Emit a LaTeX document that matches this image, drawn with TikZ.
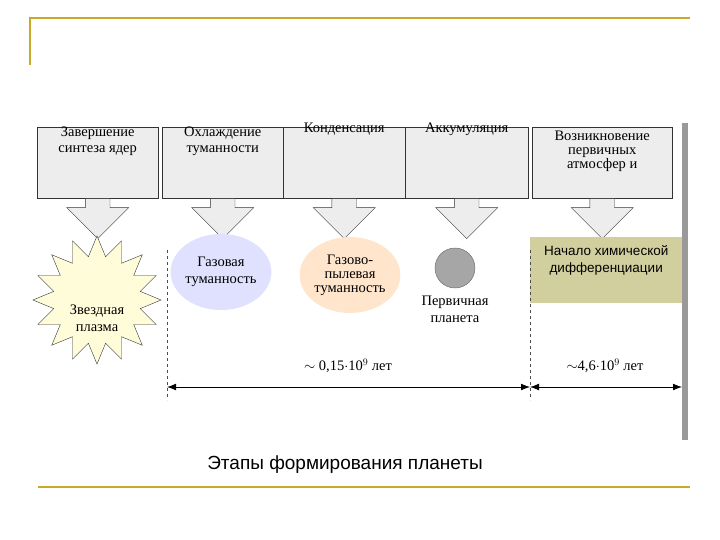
\documentclass[tikz,border=0pt]{standalone}
\usepackage{fontspec}
\setmainfont{Liberation Serif}
\newfontfamily\sansf{Liberation Sans}
\usetikzlibrary{positioning, shapes.geometric, shapes.arrows, arrows.meta}

\begin{document}
\begin{tikzpicture}[x=1pt, y=-1pt, every node/.style={font=\fontsize{14.5}{17}\selectfont, align=center},
    stagebox/.style={draw=black!80, fill=black!7, minimum height=71pt, anchor=north west},
    stagetext/.style={anchor=north, font=\fontsize{14.5}{16}\selectfont},
    blockarrow/.style={single arrow, draw=black!80, fill=black!7, shape border rotate=270,
      minimum width=62pt, single arrow head extend=14pt, single arrow tip angle=90, minimum height=40pt, inner sep=9pt},
    span/.style={{Latex[length=9pt]}-{Latex[length=9pt]}, thick},
    divider/.style={dashed, black!70}]

    \useasboundingbox (0,0) rectangle (720,540);
    % Slide frame
    \draw[draw={rgb,255:red,200;green,170;blue,40}, line width=1.2pt] (30,65) -- (30,18) -- (690,18);
    \draw[draw={rgb,255:red,200;green,170;blue,40}, line width=1.2pt] (38,487) -- (690,487);
    \fill[black!40] (682,123) rectangle (688,440);

    % Stages
    \node[stagebox, minimum width=121pt] (s1) at (37,127) {};
    \node[stagebox, minimum width=121pt] (s2) at (162,127) {};
    \node[stagebox, minimum width=122pt] (s3) at (283,127) {};
    \node[stagebox, minimum width=123pt] (s4) at (405,127) {};
    \node[stagebox, minimum width=140pt] (s5) at (532,127) {};
    \node[stagetext] at ([yshift=4pt]s1.north) {Завершение\\синтеза ядер};
    \node[stagetext] at ([yshift=4pt]s2.north) {Охлаждение\\туманности};
    \node[stagetext] at ([yshift=8pt]s3.north) {Конденсация};
    \node[stagetext] at ([yshift=8pt]s4.north) {Аккумуляция};
    \node[stagetext, font=\fontsize{14.5}{14}\selectfont] at ([yshift=0pt]s5.north) {Возникновение\\первичных\\атмосфер и};

    \foreach \s in {s1,s2,s3,s4,s5}
      \node[blockarrow, anchor=tail] (a\s) at (\s.south) {};

    % Objects
    \node[star, star points=16, star point ratio=1.45, draw=black!80, fill=yellow!15,
      minimum size=128pt, inner sep=0pt] (plasma) at (97,300) {};
    \node at (97,318) {Звездная\\плазма};
    \node[ellipse, fill=blue!12, minimum width=96pt, minimum height=76pt, inner sep=0pt] (gas) at (221,272) {Газовая\\туманность};
    \node[ellipse, fill=orange!20, minimum width=100pt, minimum height=76pt, inner sep=0pt,
      font=\fontsize{14.5}{14}\selectfont] (dust) at (350,275) {Газово-\\пылевая\\туманность};
    \node[circle, draw=black!60, fill=black!35, minimum size=40pt] (ball) at (455,268) {};
    \node[below=4pt of ball] (planet) {Первичная\\планета};
    \node[fill=yellow!55!black!45, minimum width=152pt, minimum height=66pt, anchor=north west,
      font=\sansf\fontsize{13.5}{17}\selectfont, text depth=22pt] (chem) at (530,237) {Начало химической\\дифференциации};

    % Time spans
    \coordinate (d1) at (167,250);
    \coordinate (d2) at (530,250);
    \coordinate (e1) at (167,400);
    \coordinate (e2) at (530,400);
    \coordinate (e3) at (682,387);
    \draw[divider] (d1) -- (e1);
    \draw[divider] (d2) -- (e2);
    \draw[span] (e1 |- e3) -- (e2 |- e3);
    \draw[span] (e2 |- e3) -- (e3);
    \node (t1) at (348,366) {$\sim$ 0,15$\cdot$10$^9$ лет};
    \node (t2) at (605,366) {$\sim$4,6$\cdot$10$^9$ лет};

    \node[font=\sansf\fontsize{19}{22}\selectfont] (title) at (345,465) {Этапы формирования планеты};
\end{tikzpicture}
\end{document}
